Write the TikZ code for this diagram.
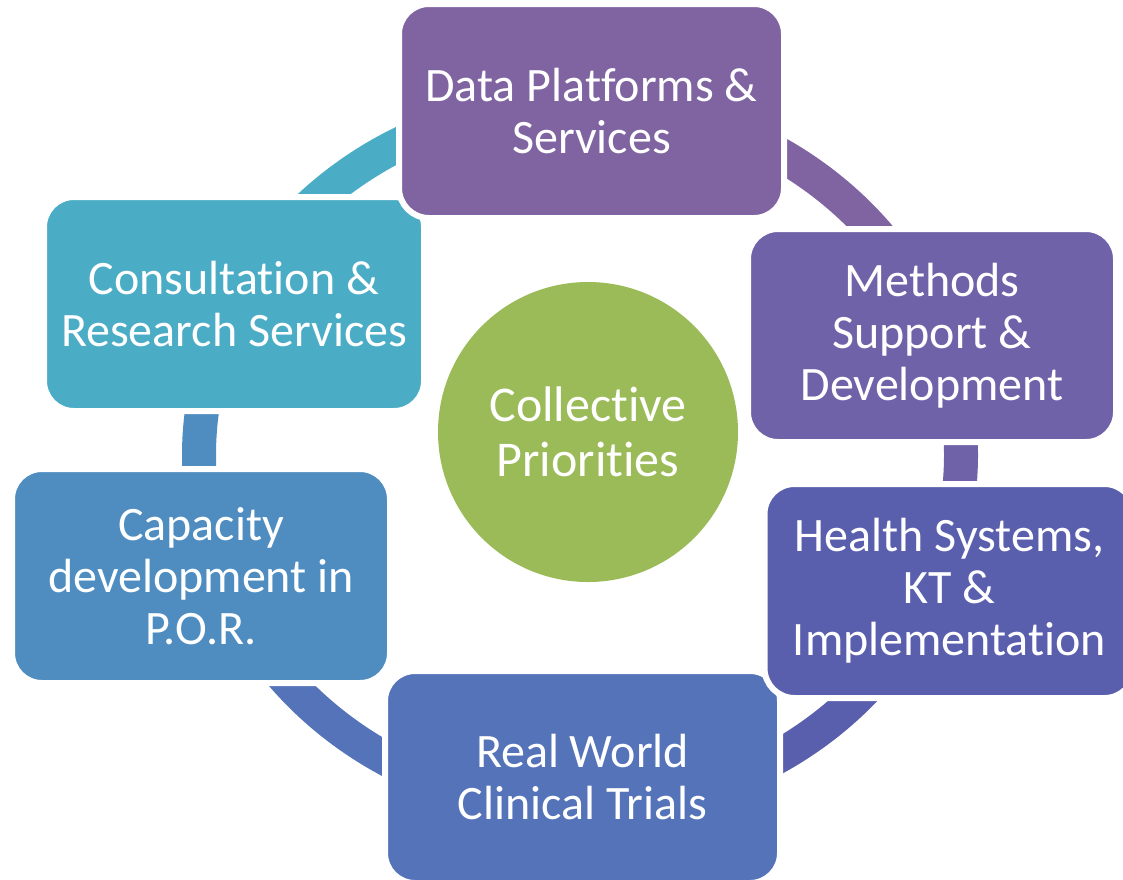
\documentclass[tikz,border=0pt]{standalone}
\usepackage{fontspec}
\setmainfont{Carlito}[Ligatures={NoCommon,NoRequired,NoContextual}, Contextuals=NoAlternate]
\newcommand{\nolig}{\kern0pt }
\definecolor{cData}{HTML}{8064A2}
\definecolor{cMethods}{HTML}{6F62A9}
\definecolor{cHealth}{HTML}{5A5FAD}
\definecolor{cReal}{HTML}{5473B9}
\definecolor{cCapacity}{HTML}{4F8DC1}
\definecolor{cConsult}{HTML}{4BACC6}
\definecolor{cCenter}{HTML}{9BBB59}
\begin{document}
\begin{tikzpicture}[x=1pt,y=1pt,
  boxstyle/.style={draw=white, line width=6pt, rounded corners=30pt, text=white,
    align=center, inner sep=0pt, font=\fontsize{48}{52}\selectfont},
  ringseg/.style={line width=34pt, line cap=butt}]
\useasboundingbox (0,0) rectangle (1123,-879);
% ring segments (behind boxes)
\draw[ringseg, cConsult] ({580+381*cos(160)},{-455+353*sin(160)}) arc[start angle=160, end angle=90, x radius=381pt, y radius=353pt];
\draw[ringseg, cData] ({580+381*cos(90)},{-455+353*sin(90)}) arc[start angle=90, end angle=20, x radius=381pt, y radius=353pt];
\draw[ringseg, cMethods] ({580+381*cos(20)},{-455+353*sin(20)}) arc[start angle=20, end angle=-25, x radius=381pt, y radius=353pt];
\draw[ringseg, cHealth] ({580+381*cos(-25)},{-455+353*sin(-25)}) arc[start angle=-25, end angle=-90, x radius=381pt, y radius=353pt];
\draw[ringseg, cReal] ({580+381*cos(-90)},{-455+353*sin(-90)}) arc[start angle=-90, end angle=-155, x radius=381pt, y radius=353pt];
\draw[ringseg, cCapacity] ({580+381*cos(205)},{-455+353*sin(205)}) arc[start angle=205, end angle=160, x radius=381pt, y radius=353pt];
% centre
\node[circle, fill=cCenter, minimum size=300pt, inner sep=0pt, text=white, align=center,
  font=\fontsize{50}{55}\selectfont] (center) at (588,-432) {Collect\nolig ive\\Priorit\nolig ies};
% boxes
\node[boxstyle, fill=cConsult, minimum width=380pt, minimum height=214pt] (consult) at (234,-304) {Consultat\nolig ion \&\\Research Services};
\node[boxstyle, fill=cCapacity, minimum width=378pt, minimum height=214pt] (capacity) at (201,-576) {Capacity\\development in\\P.O.R.};
\node[boxstyle, fill=cReal, minimum width=395pt, minimum height=212pt] (real) at (582.5,-777) {Real World\\Clinical Trials};
\node[boxstyle, fill=cHealth, minimum width=370pt, minimum height=214pt] (health) at (949.5,-591) {Health Systems,\\KT \&\\Implementat\nolig ion};
\node[boxstyle, fill=cMethods, minimum width=368pt, minimum height=213pt] (methods) at (932,-335.5) {Methods\\Support \&\\Development};
\node[boxstyle, fill=cData, minimum width=385pt, minimum height=214pt] (data) at (591.5,-111) {Data Platforms \&\\Services};
\end{tikzpicture}
\end{document}
